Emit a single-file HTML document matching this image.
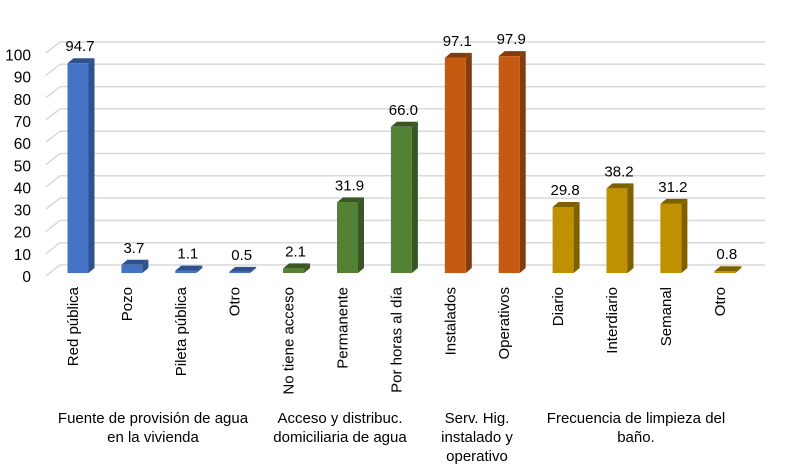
<!DOCTYPE html>
<html><head><meta charset="utf-8"><style>
body{margin:0;background:#fff}
svg{display:block;font-family:"Liberation Sans",Arial,sans-serif}
</style></head><body>
<svg id="c" width="797" height="472"></svg>
<script>
const categories=["Red pública","Pozo","Pileta pública","Otro","No tiene acceso","Permanente","Por horas al día","Instalados","Operativos","Diario","Interdiario","Semanal","Otro"];
const values=[94.7,3.7,1.1,0.5,2.1,31.9,66.0,97.1,97.9,29.8,38.2,31.2,0.8];
const groupIdx=[0,0,0,0,1,1,1,2,2,3,3,3,3];
const yTicks=[0,10,20,30,40,50,60,70,80,90,100];
const groupLabels=[["Fuente de provisión de agua","en la vivienda"],["Acceso y distribuc.","domiciliaria de agua"],["Serv. Hig.","instalado y","operativo"],["Frecuencia de limpieza del","baño."]];
const groupX=[153,340,477,636];
const front=["#4472C4","#548235","#C55A11","#BF9000"];
const side=["#2F528F","#385723","#843C0C","#7F6000"];
const NS="http://www.w3.org/2000/svg",svg=document.getElementById('c');
function el(t,a,txt){const e=document.createElementNS(NS,t);for(const k in a)e.setAttribute(k,a[k]);if(txt!==undefined)e.textContent=txt;svg.appendChild(e);return e;}
const yF=v=>273-v*2.215, yB=v=>265-v*2.23;
const xC=i=>78+i*53.9;
yTicks.forEach(t=>{
 let g=el('line',{x1:60,x2:765,y1:yB(t),y2:yB(t),stroke:'#d9d9d9','stroke-width':1.5});
 
 let d=el('line',{x1:46,x2:60,y1:yB(t)+11,y2:yB(t),stroke:'#d9d9d9','stroke-width':1.5});
 
 let l=el('text',{x:31,y:yF(t)+9,'text-anchor':'end','font-size':15.5,fill:'#000'},t);
 
});
values.forEach((v,i)=>{
 const g=groupIdx[i],x0=xC(i)-10.5,x1=xC(i)+10.5,yt=yF(v),yb=273,dx=6,dy=5;
 let s=el('polygon',{points:`${x1},${yt} ${x1+dx},${yt-dy} ${x1+dx},${yb-dy} ${x1},${yb}`,fill:side[g]});
 
 let tp=el('polygon',{points:`${x0},${yt} ${x0+dx},${yt-dy} ${x1+dx},${yt-dy} ${x1},${yt}`,fill:side[g]});
 
 let r=el('rect',{x:x0,y:yt,width:x1-x0,height:yb-yt,fill:front[g]});
 
 let vl=el('text',{x:xC(i)+2,y:yt-12,'text-anchor':'middle','font-size':15,fill:'#000'},v.toFixed(1));
 
 let cl=el('text',{x:0,y:0,'text-anchor':'end','font-size':15,fill:'#000',transform:`translate(${xC(i)},287) rotate(-90)`},categories[i]);
 
});
groupLabels.forEach((ls,k)=>{ls.forEach((s,j)=>{
 let t=el('text',{x:groupX[k],y:423+j*19,'text-anchor':'middle','font-size':15,fill:'#000'},s);
 
});});
</script>
</body></html>
